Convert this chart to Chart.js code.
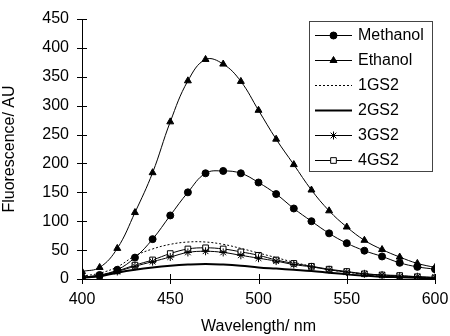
<!DOCTYPE html>
<html>
<head>
<meta charset="utf-8">
<script src="https://cdn.jsdelivr.net/npm/chart.js@4/dist/chart.umd.min.js"></script>
<style>
  html, body { margin: 0; padding: 0; background: #fff; }
  #wrap { width: 450px; height: 336px; }
</style>
</head>
<body>
<div id="wrap"><canvas id="espectro" width="450" height="336"></canvas></div>
<script>
// longitudes de onda (nm)
var longitudes = [400,410,420,430,440,450,460,470,480,490,500,510,520,530,540,550,560,570,580,590,600];

// series
var metanol = [3,7,16,37,69,110,150,183,187,183,167,147,122,100,79,62,49,39,28,21,17];
var etanol  = [13,20,53,115,184,272,343,380,372,342,292,242,198,154,118,90,67,51,38,27,20];
var gs1     = [5,10,21,40,52,60,64,64,60,53,45,37,29,22,16,12,8,6,4,3,2];
var gs2     = [2,5,11,16,20,23,25,26,25,23,20,18,16,14,11,8,6,4,3,2,1];
var gs3     = [2,5,13,22,30,38,46,48,46,41,36,31,25,21,16,12,9,7,5,4,3];
var gs4     = [2,6,14,24,33,44,52,54,52,47,41,33,27,22,17,13,9,7,6,4,2];

var ticksX = [400,450,500,550,600];
var ticksY = [0,50,100,150,200,250,300,350,400,450];

function puntos(valores){
  return valores.map(function(v, i){ return {x: longitudes[i], y: v}; });
}

var fuente = "'Liberation Sans', Arial, sans-serif";

// ticks que cruzan el eje + leyenda dentro del area
var extras = {
  id: 'extras',
  afterDraw: function(chart){
    var ctx = chart.ctx;
    var sx = chart.scales.x, sy = chart.scales.y;
    ctx.save();
    ctx.strokeStyle = '#000';
    ctx.lineWidth = 1;
    ctx.beginPath();
    ticksY.forEach(function(v){
      var py = Math.round(sy.getPixelForValue(v)) + 0.5;
      ctx.moveTo(sx.left - 5, py); ctx.lineTo(sx.left + 5, py);
    });
    ticksX.forEach(function(v){
      var px = Math.round(sx.getPixelForValue(v)) + 0.5;
      ctx.moveTo(px, sy.bottom - 5); ctx.lineTo(px, sy.bottom + 5);
    });
    ctx.stroke();

    // leyenda
    var x0 = 309.5, y0 = 21.5, w = 123, h = 150;
    ctx.fillStyle = '#fff';
    ctx.fillRect(x0, y0, w, h);
    ctx.strokeStyle = '#444';
    ctx.strokeRect(x0, y0, w, h);
    ctx.font = '16px ' + fuente;
    ctx.textBaseline = 'middle';
    chart.data.datasets.forEach(function(ds, i){
      var yy = 35 + i * 25;
      ctx.save();
      ctx.strokeStyle = '#000';
      ctx.lineWidth = ds.borderWidth;
      ctx.setLineDash(ds.borderDash || []);
      ctx.beginPath();
      ctx.moveTo(315, yy + 0.5); ctx.lineTo(352, yy + 0.5);
      ctx.stroke();
      ctx.restore();
      if (ds.pointStyle && ds.pointRadius > 0) {
        ctx.save();
        ctx.fillStyle = ds.pointBackgroundColor;
        ctx.strokeStyle = '#000';
        ctx.lineWidth = 1;
        Chart.helpers.drawPoint(ctx, {pointStyle: ds.pointStyle, radius: ds.pointRadius, rotation: 0, borderWidth: 1}, 333.5, yy + 0.5);
        ctx.restore();
      }
      ctx.fillStyle = '#000';
      ctx.fillText(ds.label, 358, yy + 1);
    });
    ctx.restore();
  }
};

var config = {
  type: 'line',
  data: {
    datasets: [
      { label: 'Methanol', data: puntos(metanol), borderColor: '#000', borderWidth: 1,
        pointStyle: 'circle', pointRadius: 3.5, pointBackgroundColor: '#000', pointBorderColor: '#000' },
      { label: 'Ethanol', data: puntos(etanol), borderColor: '#000', borderWidth: 1,
        pointStyle: 'triangle', pointRadius: 4, pointBackgroundColor: '#000', pointBorderColor: '#000' },
      { label: '1GS2', data: puntos(gs1), borderColor: '#000', borderWidth: 1, borderDash: [2,2],
        pointRadius: 0 },
      { label: '2GS2', data: puntos(gs2), borderColor: '#000', borderWidth: 2,
        pointRadius: 0 },
      { label: '3GS2', data: puntos(gs3), borderColor: '#000', borderWidth: 1,
        pointStyle: 'star', pointRadius: 4, pointBackgroundColor: '#000', pointBorderColor: '#000' },
      { label: '4GS2', data: puntos(gs4), borderColor: '#000', borderWidth: 1,
        pointStyle: 'rect', pointRadius: 4, pointBackgroundColor: '#fff', pointBorderColor: '#000' }
    ]
  },
  options: {
    responsive: false,
    animation: false,
    layout: { padding: { left: 0, right: 15, top: 19, bottom: 0 } },
    elements: { line: { tension: 0.4, fill: false } },
    plugins: { legend: { display: false }, tooltip: { enabled: false } },
    scales: {
      x: {
        type: 'linear', min: 400, max: 600,
        afterFit: function(s){ s.height = 57; s.paddingRight = 0; s.paddingLeft = 0; },
        afterBuildTicks: function(s){ s.ticks = ticksX.map(function(v){ return {value: v}; }); },
        grid: { display: true, drawOnChartArea: false, drawTicks: false, color: '#000' },
        border: { display: true, color: '#000', width: 1 },
        ticks: { color: '#000', font: { size: 16, family: fuente }, padding: 11, maxRotation: 0 },
        title: { display: true, text: 'Wavelength/ nm', color: '#000', font: { size: 16, family: fuente }, padding: { top: 1, bottom: 0 } }
      },
      y: {
        min: 0, max: 450,
        afterFit: function(s){ s.width = 82; s.paddingTop = 0; s.paddingBottom = 0; },
        afterBuildTicks: function(s){ s.ticks = ticksY.map(function(v){ return {value: v}; }); },
        grid: { display: true, drawOnChartArea: false, drawTicks: false, color: '#000' },
        border: { display: true, color: '#000', width: 1 },
        ticks: { color: '#000', font: { size: 16, family: fuente }, padding: 13 },
        title: { display: true, text: 'Fluorescence/ AU', color: '#000', font: { size: 16, family: fuente }, padding: { top: 0, bottom: 3 } }
      }
    }
  },
  plugins: [extras]
};

new Chart(document.getElementById('espectro'), config);
</script>
</body>
</html>
